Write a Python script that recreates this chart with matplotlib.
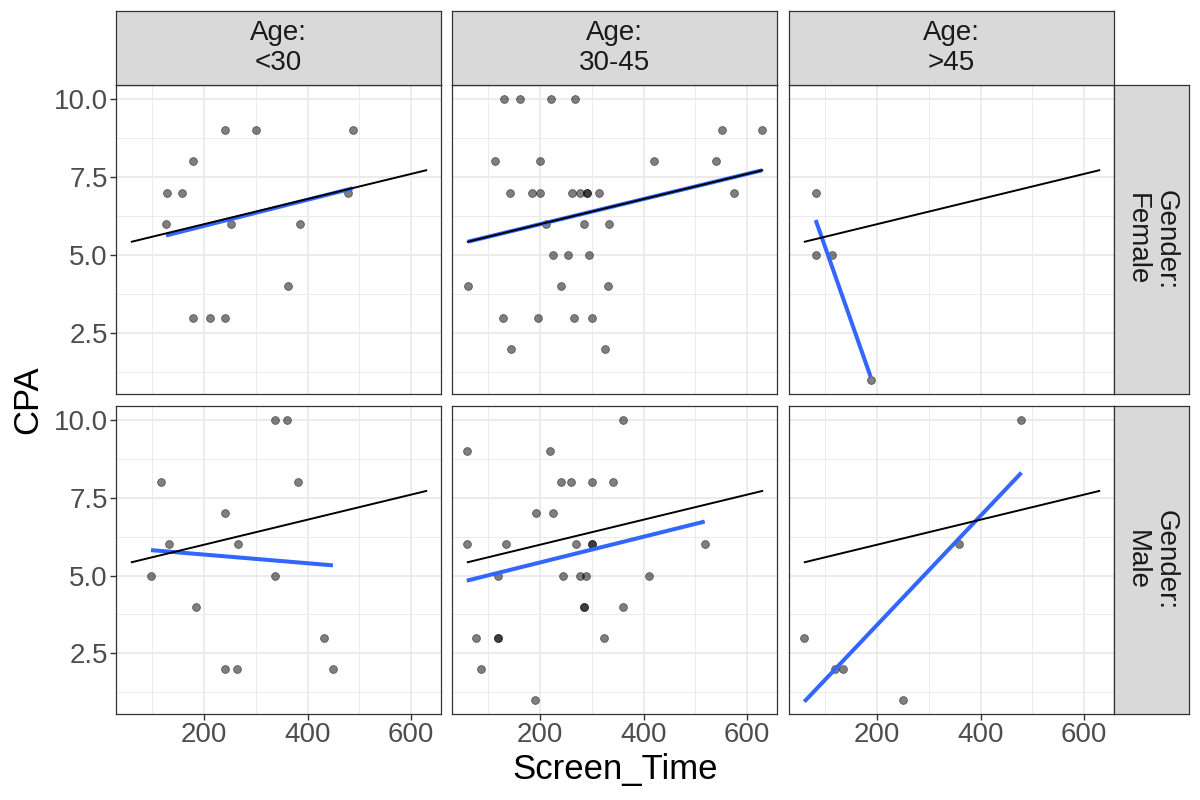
import numpy as np
import matplotlib
matplotlib.use("Agg")
from matplotlib import pyplot as plt

plt.rcParams["font.family"] = ["Liberation Sans", "DejaVu Sans"]

# Facet labels
ages = ["<30", "30-45", ">45"]
genders = ["Female", "Male"]

# Screen_Time / CPA
screen_f_u30 = [240, 300, 487, 180, 129, 158, 479, 127, 253, 385, 362, 180, 212, 240]
cpa_f_u30 = [9, 9, 9, 8, 7, 7, 7, 6, 6, 6, 4, 3, 3, 3]

screen_f_mid = [131, 161, 221, 267, 552, 629, 113, 200, 420, 539,
                143, 185, 200, 262, 277, 290, 290, 314, 574,
                211, 286, 334, 225, 255, 294, 61, 240, 332,
                129, 197, 265, 300, 145, 326]
cpa_f_mid = [10, 10, 10, 10, 9, 9, 8, 8, 8, 8,
             7, 7, 7, 7, 7, 7, 7, 7, 7,
             6, 6, 6, 5, 5, 5, 4, 4, 4,
             3, 3, 3, 3, 2, 2]

screen_f_o45 = [82, 82, 113, 188]
cpa_f_o45 = [7, 5, 5, 1]

screen_m_u30 = [338, 360, 118, 382, 240, 133, 265, 98, 337, 185, 432, 240, 264, 449]
cpa_m_u30 = [10, 10, 8, 8, 7, 6, 6, 5, 5, 4, 3, 2, 2, 2]

screen_m_mid = [360, 59, 220, 240, 260, 300, 341, 192, 225,
                59, 134, 270, 300, 300, 518,
                120, 245, 277, 289, 410, 286, 286, 360,
                77, 120, 120, 323, 86, 190]
cpa_m_mid = [10, 9, 9, 8, 8, 8, 8, 7, 7,
             6, 6, 6, 6, 6, 6,
             5, 5, 5, 5, 5, 4, 4, 4,
             3, 3, 3, 3, 2, 1]

screen_m_o45 = [479, 359, 60, 119, 135, 251]
cpa_m_o45 = [10, 6, 3, 2, 2, 1]

panels = {
    ("Female", "<30"): (screen_f_u30, cpa_f_u30),
    ("Female", "30-45"): (screen_f_mid, cpa_f_mid),
    ("Female", ">45"): (screen_f_o45, cpa_f_o45),
    ("Male", "<30"): (screen_m_u30, cpa_m_u30),
    ("Male", "30-45"): (screen_m_mid, cpa_m_mid),
    ("Male", ">45"): (screen_m_o45, cpa_m_o45),
}

W, H = 1200, 800
fig = plt.figure(figsize=(W / 100, H / 100), dpi=100)


def px_axes(x0, y0, x1, y1):
    return fig.add_axes([x0 / W, 1 - y1 / H, (x1 - x0) / W, (y1 - y0) / H])


col_edges = [(116, 441), (452, 777), (789, 1114)]
row_edges = [(85, 394), (406, 714)]
strip_top = 11
strip_right = 1189

grey20 = "#333333"
tick_fs = 20
strip_fs = 20

# Reference line: fit of the Female 30-45 group, shown in every panel
ref_x = np.array(screen_f_mid, dtype=float)
ref_y = np.array(cpa_f_mid, dtype=float)
ref_fit = np.polyfit(ref_x, ref_y, 1)
ref_xs = np.array([ref_x.min(), ref_x.max()])

all_x = np.concatenate([np.array(v[0], dtype=float) for v in panels.values()])
all_y = np.concatenate([np.array(v[1], dtype=float) for v in panels.values()])
xr = all_x.max() - all_x.min()
yr = all_y.max() - all_y.min()
xlim = (all_x.min() - 0.05 * xr, all_x.max() + 0.05 * xr)
ylim = (all_y.min() - 0.05 * yr, all_y.max() + 0.05 * yr)

for r, g in enumerate(genders):
    for c, a in enumerate(ages):
        x0, x1 = col_edges[c]
        y0, y1 = row_edges[r]
        ax = px_axes(x0, y0, x1, y1)
        xs, ys = panels[(g, a)]
        xs = np.array(xs, dtype=float)
        ys = np.array(ys, dtype=float)

        ax.scatter(xs, ys, s=32, color="black", alpha=0.5, linewidths=0.6,
                   edgecolors="black", zorder=3)
        fit = np.polyfit(xs, ys, 1)
        fx = np.array([xs.min(), xs.max()])
        ax.plot(fx, np.polyval(fit, fx), color="#3366FF", lw=2.9, zorder=4,
                solid_capstyle="butt")
        ax.plot(ref_xs, np.polyval(ref_fit, ref_xs), color="black", lw=1.4,
                zorder=5)

        ax.set_xlim(xlim)
        ax.set_ylim(ylim)
        ax.set_xticks([200, 400, 600])
        ax.set_xticks([100, 300, 500], minor=True)
        ax.set_yticks([2.5, 5.0, 7.5, 10.0])
        ax.set_yticks([1.25, 3.75, 6.25, 8.75], minor=True)
        ax.grid(True, which="major", color="#EBEBEB", lw=1.4, zorder=0)
        ax.grid(True, which="minor", color="#EBEBEB", lw=0.7, zorder=0)
        ax.set_axisbelow(True)
        for s in ax.spines.values():
            s.set_color(grey20)
            s.set_linewidth(0.9)
        ax.tick_params(which="minor", length=0)
        ax.tick_params(which="major", length=4, width=1, color=grey20,
                       labelsize=tick_fs, labelcolor="#4D4D4D", pad=2)
        if c == 0:
            ax.set_yticklabels(["2.5", "5.0", "7.5", "10.0"])
        else:
            ax.tick_params(axis="y", which="both", left=False, labelleft=False)
        if r == len(genders) - 1:
            ax.set_xticklabels(["200", "400", "600"])
        else:
            ax.tick_params(axis="x", which="both", bottom=False, labelbottom=False)

        # top strips
        if r == 0:
            sax = px_axes(x0, strip_top, x1, y0)
            sax.set_facecolor("#D9D9D9")
            sax.set_xticks([])
            sax.set_yticks([])
            for s in sax.spines.values():
                s.set_color(grey20)
                s.set_linewidth(0.9)
            sax.text(0.5, 0.5, "Age:\n" + a, ha="center", va="center",
                     fontsize=strip_fs, color="#1A1A1A", linespacing=1.15,
                     transform=sax.transAxes)
        # right strips
        if c == len(ages) - 1:
            sax = px_axes(x1, y0, strip_right, y1)
            sax.set_facecolor("#D9D9D9")
            sax.set_xticks([])
            sax.set_yticks([])
            for s in sax.spines.values():
                s.set_color(grey20)
                s.set_linewidth(0.9)
            sax.text(0.5, 0.5, "Gender:\n" + g, ha="center", va="center",
                     fontsize=strip_fs, color="#1A1A1A", rotation=-90,
                     linespacing=1.15, transform=sax.transAxes)

fig.text(615 / W, 1 - 770 / H, "Screen_Time", ha="center", va="center",
         fontsize=25, color="black")
fig.text(28 / W, 1 - 400 / H, "CPA", ha="center", va="center",
         fontsize=25, color="black", rotation=90)

fig.savefig("out.png", dpi=100)
